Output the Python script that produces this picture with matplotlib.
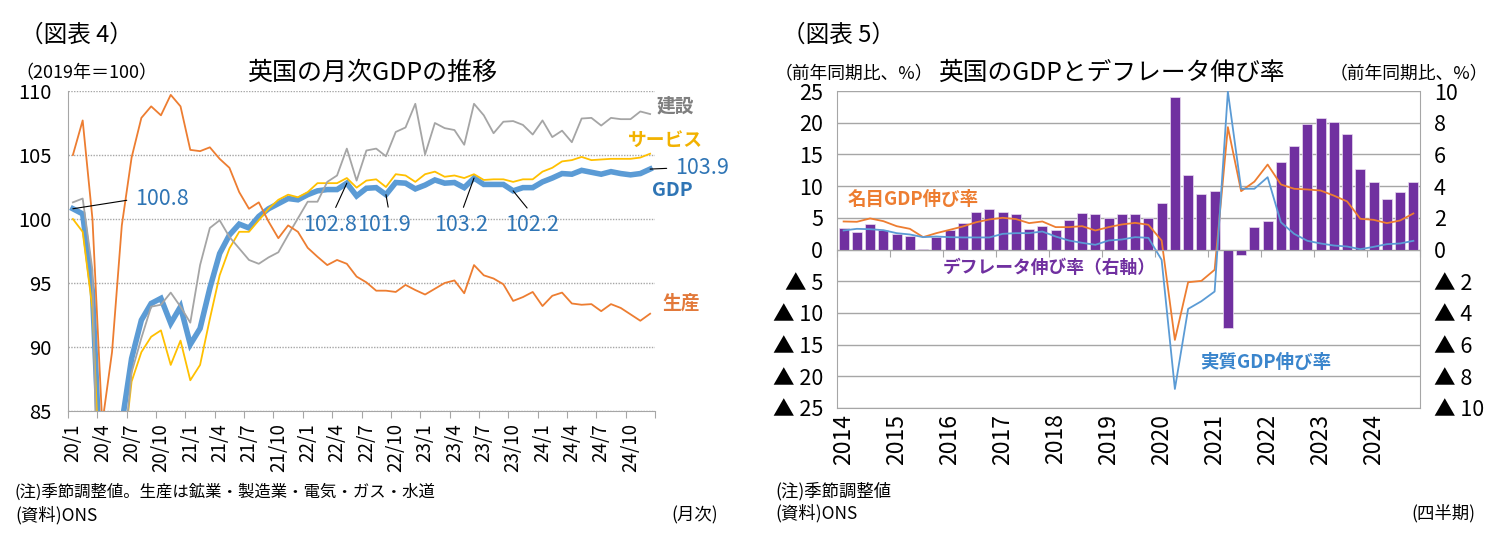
import numpy as np
import matplotlib
matplotlib.use("Agg")
import matplotlib.pyplot as plt

plt.rcParams['font.family'] = ['Noto Sans CJK JP', 'DejaVu Sans']

## データ（図表4：月次、2020/1～2024/12、2019年=100）

gdp = [100.8, 100.4, 94.3, 77.0, 79.5, 84.0, 89.1, 92.1, 93.4, 93.8,
       91.85, 93.15, 90.2, 91.45, 94.6, 97.3, 98.75, 99.6, 99.3, 100.2,
       100.8, 101.2, 101.6, 101.5, 101.9, 102.2, 102.3, 102.3, 102.8, 101.8,
       102.4, 102.45, 101.9, 102.85, 102.8, 102.35, 102.65, 103.05, 102.8, 102.85,
       102.45, 103.2, 102.7, 102.7, 102.7, 102.2, 102.45, 102.45, 102.9, 103.2,
       103.55, 103.5, 103.8, 103.65, 103.5, 103.7, 103.55, 103.45, 103.55, 103.9]
services = [100.0, 99.0, 93.0, 75.0, 78.0, 80.5, 87.3, 89.6, 90.8, 91.3,
            88.6, 90.5, 87.4, 88.6, 92.2, 95.6, 97.7, 99.0, 99.0, 99.9,
            100.8, 101.5, 101.9, 101.7, 102.1, 102.8, 102.8, 102.8, 103.2, 102.45,
            103.0, 103.1, 102.5, 103.5, 103.4, 102.9, 103.5, 103.7, 103.3, 103.4,
            103.2, 103.5, 103.05, 103.1, 103.1, 102.9, 103.1, 103.1, 103.7, 104.0,
            104.5, 104.6, 104.85, 104.6, 104.65, 104.7, 104.7, 104.7, 104.8, 105.1]
construction = [101.3, 101.6, 96.0, 60.0, 68.0, 80.0, 88.0, 90.7, 93.15, 93.3,
                94.25, 93.15, 91.9, 96.4, 99.3, 99.9, 98.6, 97.7, 96.8, 96.5,
                97.0, 97.4, 98.75, 100.05, 101.35, 101.35, 102.9, 103.4, 105.5, 103.0,
                105.35, 105.5, 104.9, 106.8, 107.15, 109.0, 105.05, 107.5, 107.1, 106.95,
                105.8, 109.0, 108.1, 106.7, 107.6, 107.65, 107.35, 106.6, 107.7, 106.4,
                106.9, 106.0, 107.85, 107.9, 107.3, 107.9, 107.8, 107.8, 108.4, 108.2]
production = [105.0, 107.7, 100.0, 84.0, 89.6, 99.5, 104.8, 107.9, 108.8, 108.1,
              109.7, 108.8, 105.4, 105.3, 105.6, 104.7, 104.0, 102.1, 100.8, 101.3,
              99.8, 98.5, 99.5, 99.0, 97.75, 97.05, 96.4, 96.8, 96.5, 95.5,
              95.05, 94.4, 94.4, 94.3, 94.85, 94.45, 94.1, 94.55, 95.0, 95.2,
              94.2, 96.4, 95.6, 95.35, 94.9, 93.6, 93.9, 94.3, 93.2, 94.0,
              94.25, 93.4, 93.3, 93.35, 92.8, 93.35, 93.05, 92.55, 92.05, 92.6]
month_labels = ["20/1", "20/4", "20/7", "20/10", "21/1", "21/4", "21/7", "21/10",
                "22/1", "22/4", "22/7", "22/10", "23/1", "23/4", "23/7", "23/10",
                "24/1", "24/4", "24/7", "24/10"]

## データ（図表5：四半期、2014Q1～2024Q4、前年同期比%）

nominal = [4.42, 4.37, 4.9, 4.47, 3.68, 3.26, 1.95, 2.58, 3.1, 3.63, 4.3, 4.74,
           5.0, 4.8, 4.16, 4.42, 3.53, 3.53, 3.68, 3.0, 3.53, 3.95, 4.2, 3.9,
           1.42, -14.26, -5.16, -4.95, -3.2, 19.3, 9.2, 10.7, 13.4, 10.26, 9.58, 9.47,
           9.3, 8.5, 7.58, 4.84, 4.68, 4.16, 4.58, 5.68]
real = [3.0, 3.26, 3.2, 3.05, 2.58, 2.37, 1.95, 2.05, 1.95, 1.9, 1.9, 1.9,
        2.47, 2.58, 2.58, 2.84, 2.05, 1.42, 1.05, 0.74, 1.42, 1.58, 1.95, 1.84,
        -1.63, -22.0, -9.37, -8.16, -6.63, 24.9, 9.58, 9.58, 11.4, 4.3, 2.47, 1.37,
        0.95, 0.63, 0.47, 0.05, 0.42, 0.84, 0.95, 1.37]
deflator = [1.37, 1.09, 1.58, 1.26, 0.99, 0.84, 0.05, 0.78, 1.2, 1.68, 2.36, 2.53,
            2.38, 2.23, 1.31, 1.47, 1.26, 1.85, 2.32, 2.23, 2.0, 2.27, 2.27, 1.98,
            2.95, 9.6, 4.67, 3.52, 3.68, -4.97, -0.34, 1.41, 1.77, 5.49, 6.55, 7.89,
            8.32, 8.02, 7.26, 5.09, 4.25, 3.18, 3.62, 4.23]
years = ["2014", "2015", "2016", "2017", "2018", "2019", "2020", "2021",
         "2022", "2023", "2024"]

## レイアウト

W, H = 1498, 552
def fx(px):
    return px / W
def fy(py):
    return 1 - py / H

c_gdp = "#5B9BD5"
c_srv = "#FFC000"
c_con = "#A5A5A5"
c_prd = "#ED7D31"
c_num = "#2F75B5"
c_def = "#7030A0"
c_ax = "#A6A6A6"

fig = plt.figure(figsize=(W / 100, H / 100), dpi=100)

## 図表4

ax1 = fig.add_axes([fx(68), fy(411), 587 / W, 320 / H])
xm = np.arange(len(gdp)) + 0.5
ax1.plot(xm, gdp, color=c_gdp, lw=4, zorder=2, solid_joinstyle="miter")
ax1.plot(xm, services, color=c_srv, lw=1.3, zorder=3)
ax1.plot(xm, construction, color=c_con, lw=1.3, zorder=3)
ax1.plot(xm, production, color=c_prd, lw=1.3, zorder=3)

ax1.set_xlim(0, len(gdp))
ax1.set_ylim(85, 110)
ax1.set_yticks(range(85, 111, 5))
ax1.grid(axis="y", color=c_ax, ls=(0, (1, 1)), lw=1)
ax1.set_axisbelow(True)
ax1.set_xticks(range(0, len(gdp) + 1, 3))
ax1.set_xticklabels([])
ax1.set_xticks(np.arange(0, len(gdp), 3) + 0.5, minor=True)
ax1.set_xticklabels(month_labels, minor=True, rotation=90)
ax1.tick_params(axis="x", which="major", length=5, color=c_ax)
ax1.tick_params(axis="x", which="minor", length=0, pad=9, labelsize=13.5)
ax1.tick_params(axis="y", length=0, pad=12, labelsize=14.5)
for s in ["top", "right"]:
    ax1.spines[s].set_visible(False)
for s in ["left", "bottom"]:
    ax1.spines[s].set_color(c_ax)

lbl_kw = dict(textcoords="figure fraction", fontsize=15.5, color=c_num, va="center")
arrow = dict(arrowstyle="-", color="black", lw=0.8, shrinkB=0)
ax1.annotate("100.8", xy=(xm[0], gdp[0]), xytext=(fx(135), fy(199)), ha="left",
             arrowprops=dict(arrow, relpos=(0, 0.5), shrinkA=4), **lbl_kw)
ax1.annotate("102.8", xy=(xm[28], gdp[28]), xytext=(fx(330), fy(225)), ha="center",
             arrowprops=dict(arrow, relpos=(0.55, 1), shrinkA=3), **lbl_kw)
ax1.annotate("101.9", xy=(xm[32], gdp[32]), xytext=(fx(384), fy(225)), ha="center",
             arrowprops=dict(arrow, relpos=(0.6, 1), shrinkA=3), **lbl_kw)
ax1.annotate("103.2", xy=(xm[41], gdp[41]), xytext=(fx(461), fy(225)), ha="center",
             arrowprops=dict(arrow, relpos=(0.5, 1), shrinkA=3), **lbl_kw)
ax1.annotate("102.2", xy=(xm[45], gdp[45]), xytext=(fx(532), fy(225)), ha="center",
             arrowprops=dict(arrow, relpos=(0.5, 1), shrinkA=3), **lbl_kw)
ax1.annotate("103.9", xy=(xm[59], gdp[59]), xytext=(fx(675), fy(168)), ha="left",
             arrowprops=dict(arrow, relpos=(0, 0.5), shrinkA=4), **lbl_kw)

fig.text(fx(657), fy(106), "建設", color="#7F7F7F", fontsize=13.5, fontweight="bold", va="center")
fig.text(fx(628), fy(140), "サービス", color="#F2B200", fontsize=13.5, fontweight="bold", va="center")
fig.text(fx(652), fy(191), "GDP", color=c_num, fontsize=14, fontweight="bold", va="center")
fig.text(fx(662), fy(303), "生産", color="#E2793A", fontsize=13.5, fontweight="bold", va="center")

fig.text(fx(20), fy(35), "（図表 4）", fontsize=17, va="center")
fig.text(fx(15), fy(73), "（2019年＝100）", fontsize=13, va="center")
fig.text(fx(372), fy(73), "英国の月次GDPの推移", fontsize=18, ha="center", va="center")
fig.text(fx(15), fy(492), "(注)季節調整値。生産は鉱業・製造業・電気・ガス・水道", fontsize=11.8, va="center")
fig.text(fx(15), fy(515), "(資料)ONS", fontsize=12.5, va="center")
fig.text(fx(718), fy(515), "(月次)", fontsize=12.5, va="center", ha="right")

## 図表5

ax2 = fig.add_axes([fx(837), fy(408), 583 / W, 317 / H])
ax2r = ax2.twinx()
ax2.set_zorder(ax2r.get_zorder() + 1)
ax2.patch.set_visible(False)

xq = np.arange(len(deflator)) + 0.5
ax2r.bar(xq, deflator, width=0.75, color=c_def, edgecolor="#E8DCF0", lw=0.5, zorder=2)
ax2r.set_ylim(-10, 10)
ax2r.set_yticks(range(-10, 11, 2))
ax2r.set_yticklabels([f"▲ {abs(v)}" if v < 0 else str(v) for v in range(-10, 11, 2)])
ax2r.grid(axis="y", color=c_ax, lw=1)
ax2r.set_axisbelow(True)
ax2r.tick_params(axis="y", length=0, pad=10, labelsize=15.5)

ax2.plot(xq, nominal, color=c_prd, lw=1.3)
ax2.plot(xq, real, color=c_gdp, lw=1.3)
ax2.set_xlim(0, len(deflator))
ax2.set_ylim(-25, 25)
ax2.set_yticks(range(-25, 26, 5))
ax2.set_yticklabels([f"▲ {abs(v)}" if v < 0 else str(v) for v in range(-25, 26, 5)])
ax2.tick_params(axis="y", length=0, pad=10, labelsize=15.5)

# 0の位置に横軸（年の区切りに目盛り）
ax2.spines["bottom"].set_position(("data", 0))
ax2.spines["bottom"].set_color(c_ax)
ax2.set_xticks(range(0, len(deflator) + 1, 4))
ax2.set_xticklabels([])
ax2.tick_params(axis="x", length=5, color=c_ax)

sec = ax2.secondary_xaxis("bottom")
sec.set_xticks(np.arange(0, len(deflator), 4) + 0.5)
sec.set_xticklabels(years, rotation=90)
sec.tick_params(length=0, pad=4, labelsize=16.5)
sec.spines["bottom"].set_color(c_ax)

for s in ["top", "right"]:
    ax2.spines[s].set_visible(False)
ax2.spines["left"].set_color(c_ax)
for s in ["top", "left", "bottom"]:
    ax2r.spines[s].set_visible(False)
ax2r.spines["right"].set_color(c_ax)

fig.text(fx(848), fy(199), "名目GDP伸び率", color=c_prd, fontsize=13.3, fontweight="bold", va="center")
fig.text(fx(943), fy(268), "デフレータ伸び率（右軸）", color=c_def, fontsize=12.8, fontweight="bold", va="center")
fig.text(fx(1200), fy(363), "実質GDP伸び率", color="#3A85CC", fontsize=13.3, fontweight="bold", va="center")

fig.text(fx(782), fy(35), "（図表 5）", fontsize=17, va="center")
fig.text(fx(775), fy(73), "（前年同期比、%）", fontsize=12.8, va="center")
fig.text(fx(1488), fy(73), "（前年同期比、%）", fontsize=12.8, va="center", ha="right")
fig.text(fx(1111), fy(73), "英国のGDPとデフレータ伸び率", fontsize=17.8, ha="center", va="center")
fig.text(fx(775), fy(491), "(注)季節調整値", fontsize=12.5, va="center")
fig.text(fx(775), fy(513), "(資料)ONS", fontsize=12.5, va="center")
fig.text(fx(1475), fy(513), "(四半期)", fontsize=12.5, va="center", ha="right")

fig.savefig("out.png", dpi=100)
